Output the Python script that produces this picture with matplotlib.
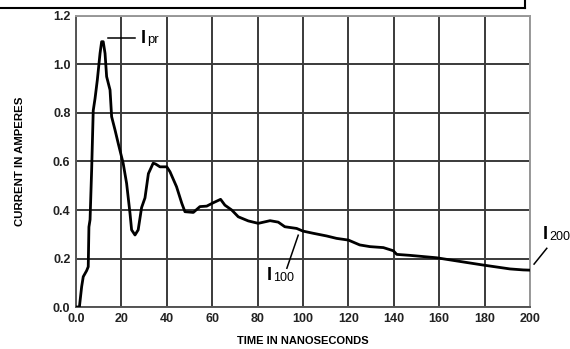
import numpy as np
import matplotlib.pyplot as plt
from matplotlib.lines import Line2D

plt.rcParams['font.family'] = ['Liberation Sans', 'DejaVu Sans']

# current trace (ns, A)
t_ns = [0, 1.5, 2.5, 3.2, 4.7, 5.4, 5.7, 6.2, 6.9, 7.6, 8.4, 9.4, 10.6, 11.3, 12.0,
        12.8, 13.5, 15.0, 15.7, 17.2, 18.6, 20.8, 22.3, 23.8, 24.5, 26.0, 27.4,
        28.9, 30.4, 31.9, 34.0, 35.0, 37.0, 40.0, 41.4, 44.3, 46.6, 48.0, 51.7,
        54.6, 57.6, 60.5, 63.7, 65.6, 68.6, 71.5, 75.9, 80.3, 85.5, 89.1, 92.0,
        97.2, 100.0, 104.5, 110.4, 114.8, 120.0, 125.0, 129.5, 135.4, 139.8,
        141.3, 147.1, 158.9, 167.7, 179.4, 191.2, 197.0, 200.0]
i_amp = [0, 0, 0.084, 0.125, 0.15, 0.166, 0.33, 0.36, 0.565, 0.81, 0.86, 0.936,
         1.046, 1.094, 1.094, 1.046, 0.95, 0.895, 0.785, 0.73, 0.675, 0.592, 0.51,
         0.386, 0.318, 0.297, 0.318, 0.41, 0.45, 0.55, 0.593, 0.59, 0.578, 0.578,
         0.558, 0.496, 0.428, 0.393, 0.39, 0.414, 0.416, 0.43, 0.444, 0.42, 0.4,
         0.372, 0.355, 0.345, 0.356, 0.35, 0.331, 0.324, 0.313, 0.304, 0.293,
         0.283, 0.276, 0.256, 0.249, 0.245, 0.232, 0.217, 0.213, 0.203, 0.19,
         0.173, 0.157, 0.153, 0.152]

x_ticks = [0, 20, 40, 60, 80, 100, 120, 140, 160, 180, 200]
x_labels = ['0.0', '20', '40', '60', '80', '100', '120', '140', '160', '180', '200']
y_ticks = [0.0, 0.2, 0.4, 0.6, 0.8, 1.0, 1.2]
y_labels = ['0.0', '0.2', '0.4', '0.6', '0.8', '1.0', '1.2']

fig = plt.figure(figsize=(5.7, 3.49), dpi=100)
ax = fig.add_axes([0.1333, 0.1203, 0.7965, 0.8339])

ax.plot(t_ns, i_amp, color='black', lw=2.0, solid_joinstyle='round', zorder=3)

ax.set_xlim(0, 200)
ax.set_ylim(0, 1.2)
ax.set_xticks(x_ticks)
ax.set_xticklabels(x_labels)
ax.set_yticks(y_ticks)
ax.set_yticklabels(y_labels)
ax.tick_params(length=0, labelsize=9, pad=4)
for lab in ax.get_xticklabels() + ax.get_yticklabels():
    lab.set_fontweight('bold')
    lab.set_color('#222222')
ax.grid(True, color='#3a3a3a', lw=1.4)
for s in ax.spines.values():
    s.set_color('#555555')
    s.set_linewidth(1.4)
ax.spines['right'].set_color('#999999')
ax.spines['top'].set_color('#999999')

ax.set_xlabel('TIME IN NANOSECONDS', fontsize=8, fontweight='bold', labelpad=8)
ax.set_ylabel('CURRENT IN AMPERES', fontsize=8.2, fontweight='bold', labelpad=20)

# annotations
ax.plot([14.2, 26], [1.108, 1.108], color='black', lw=1.1)
ax.text(28.5, 1.108, 'I', fontsize=13, fontweight='bold', va='center')
ax.text(31.3, 1.100, 'pr', fontsize=9.5, va='center')

ax.plot([97.9, 92.9], [0.296, 0.16], color='black', lw=1.1)
ax.text(84.2, 0.13, 'I', fontsize=13, fontweight='bold', va='center')
ax.text(87.0, 0.118, '100', fontsize=9, va='center')

ax.plot([207.4, 201.8], [0.242, 0.177], color='black', lw=1.1, clip_on=False)
ax.text(205.5, 0.3, 'I', fontsize=13, fontweight='bold', va='center', clip_on=False)
ax.text(208.3, 0.29, '200', fontsize=9, va='center', clip_on=False)

# frame edge at the top of the page
fig.add_artist(Line2D([0, 525 / 570], [1 - 8 / 349, 1 - 8 / 349],
                      transform=fig.transFigure, color='black', lw=1.5))
fig.add_artist(Line2D([525 / 570, 525 / 570], [1 - 8 / 349, 1],
                      transform=fig.transFigure, color='black', lw=1.5))

fig.savefig('out.png', dpi=100)
